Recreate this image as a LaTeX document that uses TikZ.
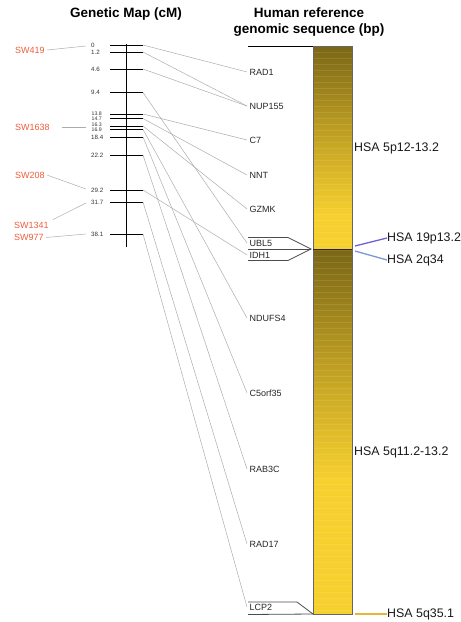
\documentclass[tikz,border=0pt]{standalone}
\usepackage{fontspec}
\setmainfont{Liberation Sans}
\definecolor{mk}{RGB}{238,92,60}
\definecolor{connc}{RGB}{172,172,172}
\definecolor{dk}{RGB}{122,102,22}
\definecolor{yl}{RGB}{246,208,46}
\definecolor{md}{RGB}{190,158,34}
\definecolor{hpurple}{RGB}{112,92,212}
\definecolor{hblue}{RGB}{122,150,215}
\definecolor{hgold}{RGB}{232,182,50}
\begin{document}
\begin{tikzpicture}[x=1pt,y=-1pt,
  titlelab/.style={inner sep=0pt, font=\fontsize{13.5}{16}\selectfont\bfseries, align=center},
  numlab/.style={anchor=west, inner sep=0pt, font=\fontsize{6.2}{7}\selectfont, text=black!80},
  smallnum/.style={anchor=west, inner sep=0pt, font=\fontsize{5.2}{6}\selectfont, text=black!80},
  mklab/.style={anchor=west, inner sep=2pt, font=\fontsize{9}{10}\selectfont, text=mk},
  genelab/.style={anchor=west, inner sep=2.5pt, font=\fontsize{9}{10}\selectfont, text=black!85},
  hsalab/.style={anchor=west, inner sep=0pt, font=\fontsize{12.4}{14}\selectfont, text=black!90},
  maptick/.style={draw=black, line width=0.8pt},
  conn/.style={draw=connc, line width=0.5pt},
  ptr/.style={draw=black!70, line width=0.8pt}]
\useasboundingbox (0,0) rectangle (461,622);

% titles
\node[titlelab] (t1) at (126,14) {Genetic Map (cM)};
\node[titlelab] (t2) at (309,22) {Human reference\\genomic sequence (bp)};

% genetic map axis
\coordinate (axtop) at (126.5,44);
\coordinate (axbot) at (126.5,247);
\draw[maptick] (axtop) -- (axbot);
\foreach \n/\y in {a/45, b/52, c/69, d/92.5, e/114, f/118.5, g/126, h/129.5, i/137, j/155, k/190, l/202, m/234}{
  \coordinate (L\n) at (110,\y);
  \coordinate (T\n) at (143,\y);
  \draw[maptick] (L\n) -- (T\n);
}
\node[numlab] (Na) at (91,45) {0};
\node[numlab] (Nb) at (91,52) {1.2};
\node[numlab] (Nc) at (91,69) {4.6};
\node[numlab] (Nd) at (91,92.5) {9.4};
\node[smallnum] (Ne) at (91.5,113.5) {13.8};
\node[smallnum] (Nf) at (91.5,118.3) {14.7};
\node[smallnum] (Ng) at (91.5,125.2) {16.3};
\node[smallnum] (Nh) at (91.5,130) {16.9};
\node[numlab] (Ni) at (91,137) {18.4};
\node[numlab] (Nj) at (91,155) {22.2};
\node[numlab] (Nk) at (91,190) {29.2};
\node[numlab] (Nl) at (91,202) {31.7};
\node[numlab] (Nm) at (91,234) {38.1};

% markers
\node[mklab] (sw419) at (13,50) {SW419};
\node[mklab] (sw1638) at (13,127) {SW1638};
\node[mklab] (sw208) at (13,175) {SW208};
\node[mklab] (sw1341) at (12,225) {SW1341};
\node[mklab] (sw977) at (12,237.5) {SW977};
\coordinate (e419) at (86,46);
\coordinate (e1638) at (86,127);
\coordinate (e208) at (86,189);
\coordinate (e1341) at (86,203);
\coordinate (e977) at (86,234);
\draw[conn] (sw419.east) -- (e419);
\draw[conn] ([xshift=10pt]sw1638.east) -- (e1638);
\draw[conn] (sw208.east) -- (e208);
\draw[conn] ([xshift=2pt]sw1341.north east) -- (e1341);
\draw[conn] (sw977.east) -- (e977);

% gene labels
\node[genelab] (rad1) at (247,72) {RAD1};
\node[genelab] (nup) at (247,106) {NUP155};
\node[genelab] (c7) at (247,140) {C7};
\node[genelab] (nnt) at (247,175) {NNT};
\node[genelab] (gzmk) at (247,209) {GZMK};
\node[genelab] (ubl5) at (247,243) {UBL5};
\node[genelab] (idh1) at (247,255) {IDH1};
\node[genelab] (ndufs) at (247,318) {NDUFS4};
\node[genelab] (c5) at (247,393) {C5orf35};
\node[genelab] (rab3c) at (247,469) {RAB3C};
\node[genelab] (rad17) at (247,544) {RAD17};
\node[genelab] (lcp2) at (247,607) {LCP2};

% connectors map -> genes
\draw[conn] (Ta) -- (rad1.west);
\draw[conn] (Tb) -- (nup.west);
\draw[conn] (Tc) -- (nup.west);
\draw[conn] (Td) -- (ubl5.west);
\draw[conn] (Te) -- (c7.west);
\draw[conn] (Tf) -- (nnt.west);
\draw[conn] (Tg) -- (gzmk.west);
\draw[conn] (Th) -- (ndufs.west);
\draw[conn] (Ti) -- (c5.west);
\draw[conn] (Tj) -- (rab3c.west);
\draw[conn] (Tk) -- (idh1.west);
\draw[conn] (Tl) -- (rad17.west);
\draw[conn] (Tm) -- (lcp2.west);

% chromosome bar
\coordinate (btl) at (313,46);
\coordinate (bbr) at (352,614);
\coordinate (bmidl) at (313,249);
\coordinate (bmidr) at (352,249);
\coordinate (bbl) at (313,614);
\shade[top color=dk, bottom color=yl, middle color=md] (313,46) rectangle (352,215);
\fill[yl] (313,214.5) rectangle (352,249);
\shade[top color=dk, bottom color=yl, middle color=md] (313,249) rectangle (352,480);
\fill[yl] (313,479.5) rectangle (352,614);
\foreach \y in {52,58,...,610}{
  \draw[white, opacity=0.10, line width=0.6pt] (313.5,\y) -- (351.5,\y);
}
\draw[black!60, line width=0.6pt] (btl) rectangle (bbr);
\draw[black!85, line width=0.9pt] (bmidl) -- (bmidr);

% reference lines and pointers
\coordinate (topl) at (248,46);
\draw[black, line width=0.9pt] (topl) -- (btl);
\coordinate (botl) at (248,614.5);
\draw[ptr] (botl) -- (bbl);
\coordinate (lcpa) at (248,602);
\coordinate (lcpb) at (297,602);
\draw[ptr] (lcpa) -- (lcpb) -- (bbl);
\coordinate (ua) at (248,237.5);
\coordinate (ub) at (288,237.5);
\coordinate (ia) at (248,260.5);
\coordinate (ib) at (288,260.5);
\coordinate (uc) at (248,249);
\coordinate (tip) at (311,249);
\draw[ptr] (ua) -- (ub) -- (tip) -- (ib) -- (ia);
\draw[ptr] (uc) -- (tip);

% HSA labels
\node[hsalab] (h5p) at (354,148) {HSA 5p12-13.2};
\node[hsalab] (h5q) at (354,452) {HSA 5q11.2-13.2};
\node[hsalab] (h19) at (387,238) {HSA 19p13.2};
\node[hsalab] (h2) at (387,260) {HSA 2q34};
\node[hsalab] (h535) at (387,614) {HSA 5q35.1};
\coordinate (p19) at (355,246);
\coordinate (p2) at (355,251);
\coordinate (p535) at (355,614);
\draw[hpurple, line width=1.3pt] (p19) -- (h19.west);
\draw[hblue, line width=1.3pt] (p2) -- (h2.west);
\draw[hgold, line width=1.3pt] (p535) -- (h535.west);
\end{tikzpicture}
\end{document}
